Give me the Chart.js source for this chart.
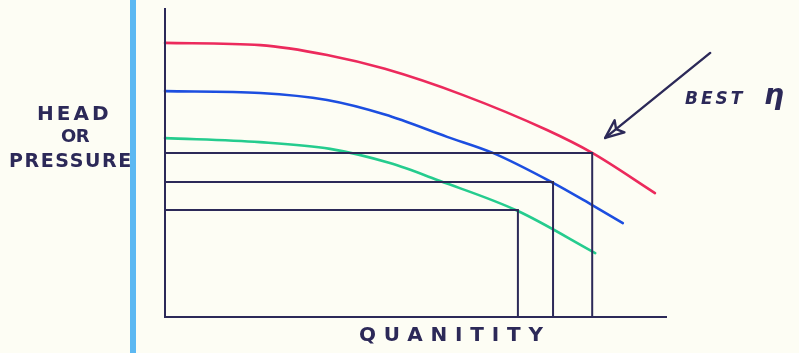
<!DOCTYPE html>
<html>
<head>
<meta charset="utf-8">
<script src="https://cdn.jsdelivr.net/npm/chart.js@4.4.0/dist/chart.umd.min.js"></script>
<style>
  html, body { margin: 0; padding: 0; background: #fdfdf4; }
  #wrap { position: relative; width: 799px; height: 353px; overflow: hidden; background: #fdfdf4; }
  #edge { position: absolute; left: 130px; top: 0; width: 6px; height: 353px; background: #5cb8f2; }
  .lbl { position: absolute; font-family: "DejaVu Sans", sans-serif; font-weight: bold; color: #2c2958; white-space: nowrap; line-height: 22px; }
  canvas { position: absolute; left: 0; top: 0; }
</style>
</head>
<body>
<div id="wrap">
  <div id="edge"></div>
  <canvas id="pumpChart" width="799" height="353"></canvas>
  <div class="lbl" style="left:37px; top:102px; font-size:20px; letter-spacing:3px;">HEAD</div>
  <div class="lbl" style="left:61px; top:125px; font-size:18px; letter-spacing:-0.5px;">OR</div>
  <div class="lbl" style="left:9px; top:149px; font-size:19px; letter-spacing:1.6px;">PRESSURE</div>
  <div class="lbl" style="left:359px; top:323px; font-size:20px; letter-spacing:7.8px;">QUANITITY</div>
  <div class="lbl" style="left:685px; top:87px; font-size:17px; font-style:italic; letter-spacing:3px;">BEST</div>
  <div class="lbl" style="left:764px; top:84px; font-size:28px; font-style:italic;">η</div>
</div>
<script>
const ctx = document.getElementById('pumpChart').getContext('2d');

const redQ   = [0, 19.0, 32.3, 43.8, 59.4, 76.1, 85.1, 97.6];
const redH   = [88.7, 88.0, 84.8, 80.3, 71.8, 60.5, 53.1, 40.1];

const blueQ  = [0, 19.0, 32.3, 43.8, 56.2, 65.3, 77.3, 85.1, 91.2];
const blueH  = [73.1, 72.5, 70.2, 65.5, 58.3, 53.1, 43.4, 36.2, 30.4];

const greenQ = [0, 18.9, 32.9, 44.8, 54.8, 70.3, 85.7];
const greenH = [57.9, 56.6, 54.4, 49.8, 44.0, 34.3, 20.7];

// pontos de operação (Q, H) marcados pelas linhas de referência
const dutyQ  = [85.1, 77.3, 70.3];
const dutyH  = [53.1, 43.7, 34.6];

const INK = '#2c2958';

function toPoints(xs, ys) {
    return xs.map((x, i) => ({ x, y: ys[i] }));
}

function curve(xs, ys, color) {
    return {
        data: toPoints(xs, ys),
        borderColor: color,
        borderWidth: 2.6,
        pointRadius: 0,
        cubicInterpolationMode: 'monotone',
        borderCapStyle: 'round',
        clip: false
    };
}

function dutyLine(q, h) {
    return {
        data: [{ x: 0, y: h }, { x: q, y: h }, { x: q, y: 0 }],
        borderColor: INK,
        borderWidth: 2,
        pointRadius: 0,
        tension: 0,
        clip: false
    };
}

// seta "BEST η" apontando para o ponto de melhor rendimento
const arrowPlugin = {
    id: 'arrow',
    afterDatasetsDraw(chart) {
        const c = chart.ctx;
        const sx = chart.scales.x, sy = chart.scales.y;
        const px = sx.getPixelForValue(dutyQ[0]);
        const py = sy.getPixelForValue(dutyH[0]);
        const tip = { x: px + 13, y: py - 15 };
        const tail = { x: px + 118, y: py - 100 };
        const ang = Math.atan2(tail.y - tip.y, tail.x - tip.x);
        c.save();
        c.strokeStyle = INK;
        c.lineWidth = 2.4;
        c.lineCap = 'round';
        c.lineJoin = 'round';
        c.beginPath();
        c.moveTo(tail.x, tail.y);
        c.lineTo(tip.x, tip.y);
        c.stroke();
        const len = 20, spread = 0.4;
        c.beginPath();
        c.moveTo(tip.x, tip.y);
        c.lineTo(tip.x + len * Math.cos(ang - spread), tip.y + len * Math.sin(ang - spread));
        c.lineTo(tip.x + len * 0.7 * Math.cos(ang), tip.y + len * 0.7 * Math.sin(ang));
        c.lineTo(tip.x + len * Math.cos(ang + spread), tip.y + len * Math.sin(ang + spread));
        c.closePath();
        c.stroke();
        c.restore();
    }
};

new Chart(ctx, {
    type: 'line',
    data: {
        datasets: [
            {
                data: [{ x: 0, y: 100 }, { x: 0, y: 0 }, { x: 100, y: 0 }],
                borderColor: INK,
                borderWidth: 2,
                pointRadius: 0,
                tension: 0,
                clip: false
            },
            dutyLine(dutyQ[0], dutyH[0]),
            dutyLine(dutyQ[1], dutyH[1]),
            dutyLine(dutyQ[2], dutyH[2]),
            curve(redQ, redH, '#ec2a5c'),
            curve(blueQ, blueH, '#1c4ee0'),
            curve(greenQ, greenH, '#25cc8e')
        ]
    },
    options: {
        responsive: false,
        animation: false,
        layout: { padding: { left: 165, right: 132, top: 8, bottom: 36 } },
        scales: {
            x: { type: 'linear', min: 0, max: 100, display: false },
            y: { type: 'linear', min: 0, max: 100, display: false }
        },
        plugins: { legend: { display: false }, tooltip: { enabled: false } }
    },
    plugins: [arrowPlugin]
});
</script>
</body>
</html>
